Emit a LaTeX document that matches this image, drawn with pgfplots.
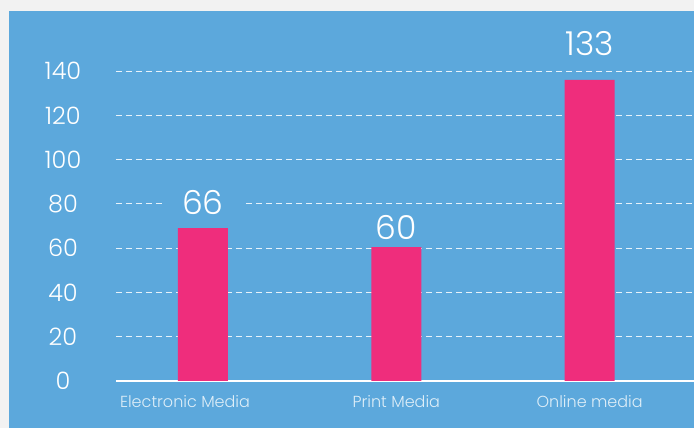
\documentclass[border=0pt]{standalone}
\usepackage{fontspec}
\setmainfont{Poppins}[UprightFont={* Light}]
\usepackage{pgfplots}
\usepackage{pgfplotstable}
\pgfplotsset{compat=1.18}
\definecolor{bgblue}{HTML}{5CA8DC}
\definecolor{barpink}{HTML}{EF2D7C}
\definecolor{outergray}{HTML}{F2F2F2}
\pgfplotstableread{
x y label dy
0 69 66 11
1 60.5 60 5
2 136 133 22
}\mediadata
\begin{document}
\begin{tikzpicture}[x=1pt,y=1pt]
\useasboundingbox (-116,-47) rectangle (578,381);
\fill[outergray] (-116,-47) rectangle (578,381);
\fill[bgblue] (-107,-47) rectangle (578,370);
\begin{axis}[
  at={(0,0)}, anchor=south west,
  scale only axis, width=578pt, height=310pt,
  xmin=-0.45, xmax=2.54, ymin=0, ymax=140,
  clip=false,
  axis lines=left,
  y axis line style={draw=none},
  x axis line style={white, line width=2.5pt, -},
  major tick length=0pt,
  ytick={0,20,...,140},
  xtick={0,1,2},
  xticklabels={\hspace*{-36pt}Electronic Media, Print Media, Online media},
  ymajorgrids,
  grid style={white!85!bgblue, line width=0.9pt, dash pattern=on 6pt off 4pt},
  /pgf/number format/assume math mode=true,
  yticklabel style={font=\fontsize{24}{28}\selectfont, text=white, anchor=center, xshift=-53pt},
  xticklabel style={font=\fontsize{16}{19}\selectfont, text=white!80!bgblue, yshift=-11pt},
  ybar, bar width=50pt,
]
\addplot[fill=barpink, draw=none,
  nodes near coords,
  point meta=explicit symbolic,
  visualization depends on={\thisrow{dy} \as \labdy},
  every node near coord/.append style={font=\fontsize{33}{37}\selectfont, text=white, fill=bgblue, inner xsep=20pt, inner ysep=2pt, yshift=\labdy pt},
] table[x=x, y=y, meta=label] {\mediadata};
\end{axis}
\end{tikzpicture}
\end{document}
